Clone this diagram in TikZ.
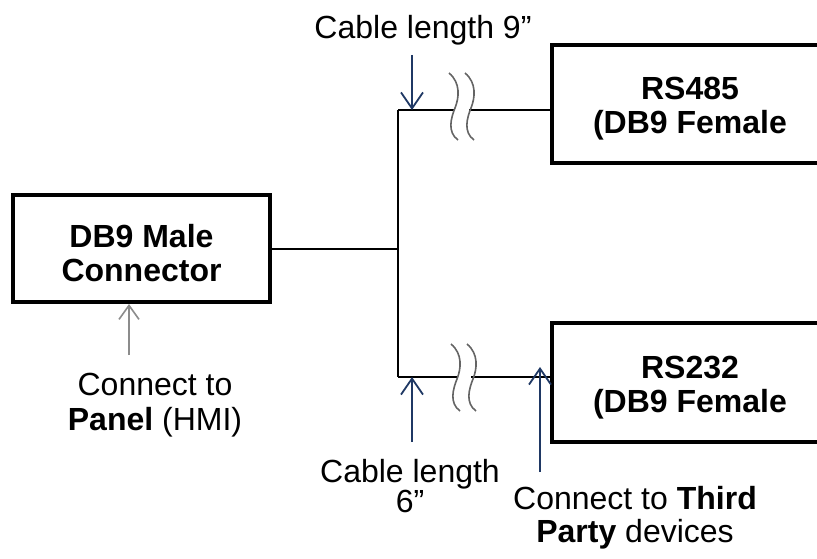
\documentclass[tikz,border=0pt]{standalone}
\usepackage{fontspec}
\setmainfont{Liberation Sans}
\usetikzlibrary{arrows.meta}
\definecolor{navy}{RGB}{31,56,100}
\definecolor{brkgray}{RGB}{100,100,100}
\tikzset{
  box/.style={draw=black, line width=4pt, fill=white, inner sep=0pt},
  boxtext/.style={align=center, font=\fontsize{32}{34}\selectfont\bfseries, inner sep=0pt, yshift=-5pt},
  lbl/.style={align=center, font=\fontsize{32}{35}\selectfont, inner sep=0pt},
  wire/.style={draw=black, line width=2pt},
  navyarrow/.style={draw=navy, line width=1.8pt, -{Straight Barb[length=16pt,width=22pt,line width=1.8pt]}},
  grayarrow/.style={draw=gray!90, line width=1.6pt, -{Straight Barb[length=14pt,width=20pt,line width=1.6pt]}},
  brk/.pic={
    \fill[white] (-6,-3) rectangle (8,3);
    \draw[brkgray, line width=1.6pt] (-12,-35) .. controls (0,-25) and (-2,-10) .. (-6,0) .. controls (-10,10) and (-14,24) .. (-3,32);
    \draw[brkgray, line width=1.6pt] (4,-35) .. controls (16,-25) and (14,-10) .. (10,0) .. controls (6,10) and (2,24) .. (13,32);
  }
}
\begin{document}
\begin{tikzpicture}[x=1pt,y=-1pt]
\useasboundingbox (0,0) rectangle (817,559);
\clip (0,0) rectangle (817,559);
% boxes
\node[box, minimum width=257pt, minimum height=107pt,
  label={[name=db9t, boxtext]center:{DB9 Male\\Connector}}] (db9) at (141.5,248.5) {};
\node[box, minimum width=276pt, minimum height=118pt,
  label={[name=rs485t, boxtext]center:{RS485\\(DB9 Female}}] (rs485) at (690,104) {};
\node[box, minimum width=276pt, minimum height=119pt,
  label={[name=rs232t, boxtext]center:{RS232\\(DB9 Female}}] (rs232) at (690,382.5) {};
% junctions
\coordinate (j) at (398,249);
\coordinate (jt) at (398,110);
\coordinate (jb) at (398,377);
\draw[wire] (db9.east |- j) -- (j);
\draw[wire] (jt) -- (jb);
\draw[wire] (jt) -- (rs485.west |- jt);
\draw[wire] (jb) -- (rs232.west |- jb);
\pic at (461,108) {brk};
\pic at (463,379) {brk};
% labels
\node[lbl] (cl9) at (423,30) {Cable length 9”};
\node[lbl] (panel) at (155,405) {Connect to\\\textbf{Panel} (HMI)};
\node[lbl, font=\fontsize{32}{30}\selectfont] (cl6) at (410,486) {Cable length\\6”};
\node[lbl, font=\fontsize{32}{33}\selectfont] (third) at (635,518) {Connect to \textbf{Third}\\\textbf{Party} devices};
% arrows
\coordinate (a9) at (412,55);
\coordinate (a6) at (412,442);
\coordinate (atp) at (540,472);
\coordinate (apn) at (129,355);
\draw[navyarrow] (a9) -- (a9 |- jt);
\draw[navyarrow] (a6) -- (a6 |- jb);
\draw[navyarrow] (atp) -- ([yshift=10pt]atp |- jb);
\draw[grayarrow] (apn) -- (apn |- db9.south);
\end{tikzpicture}
\end{document}
